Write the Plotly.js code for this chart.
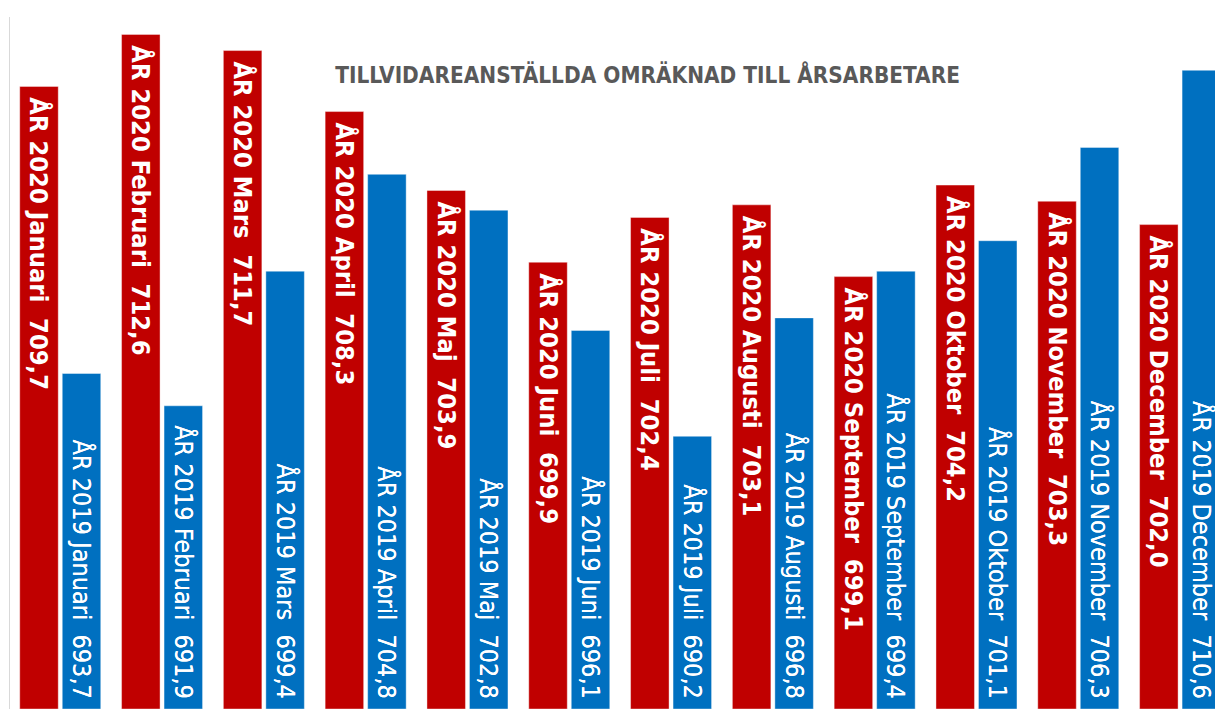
<!DOCTYPE html>
<html>
<head>
<meta charset="utf-8">
<script src="https://cdn.plot.ly/plotly-3.0.1.min.js"></script>
<style>
html,body{margin:0;padding:0;background:#fff;overflow:hidden;}
#chart{width:1215px;height:711px;}
</style>
</head>
<body>
<div id="chart"></div>
<script>
const months = ["Januari","Februari","Mars","April","Maj","Juni","Juli","Augusti","September","Oktober","November","December"];
const values2020 = [709.7, 712.6, 711.7, 708.3, 703.9, 699.9, 702.4, 703.1, 699.1, 704.2, 703.3, 702.0];
const values2019 = [693.7, 691.9, 699.4, 704.8, 702.8, 696.1, 690.2, 696.8, 699.4, 701.1, 706.3, 710.6];
const chartTitle = "TILLVIDAREANSTÄLLDA OMRÄKNAD TILL ÅRSARBETARE";

const BASE = 675;
const NB = "\u00A0";
const fmt = v => v.toFixed(1).replace(".", ",");

const text2020 = months.map((m, i) => NB + "ÅR 2020 " + m + NB + NB + fmt(values2020[i]));
const text2019 = months.map((m, i) => "ÅR 2019 " + m + NB + NB + fmt(values2019[i]) + NB);

const FONT = "'DejaVu Sans Condensed', 'Liberation Sans Narrow', sans-serif";

const traces = [
  {
    type: "bar",
    name: "2020",
    x: months,
    y: values2020.map(v => +(v - BASE).toFixed(2)),
    base: BASE,
    marker: {color: "#C00000", line: {color: "rgba(255,255,255,0.5)", width: 0.8}},
    text: text2020,
    textposition: "inside",
    insidetextanchor: "end",
    textangle: 90,
    constraintext: "none",
    textfont: {family: FONT, size: 25.3, color: "#ffffff", weight: "bold"},
    hoverinfo: "skip"
  },
  {
    type: "bar",
    name: "2019",
    x: months,
    y: values2019.map(v => +(v - BASE).toFixed(2)),
    base: BASE,
    marker: {color: "#0070C0", line: {color: "rgba(255,255,255,0.5)", width: 0.8}},
    text: text2019,
    textposition: "inside",
    insidetextanchor: "start",
    textangle: 90,
    constraintext: "none",
    textfont: {family: FONT, size: 25, color: "#ffffff", shadow: "0px 0px 0.4px #ffffff"},
    hoverinfo: "skip"
  }
];

const layout = {
  width: 1215,
  height: 711,
  margin: {l: 10, r: 0, t: 17, b: 2, pad: 0},
  paper_bgcolor: "#ffffff",
  plot_bgcolor: "#ffffff",
  showlegend: false,
  barmode: "group",
  bargap: 0.165,
  bargroupgap: 0.094,
  title: {
    text: "<b>" + chartTitle + "</b>",
    font: {family: FONT, size: 22.4, color: "#595959"},
    xref: "container", x: 0.533, xanchor: "center",
    yref: "container", y: 0.8945, yanchor: "middle"
  },
  xaxis: {
    type: "category",
    range: [-0.4936, 11.343],
    showticklabels: false, ticks: "", showgrid: false, zeroline: false, showline: false
  },
  yaxis: {
    range: [675, 713.57],
    showticklabels: false, ticks: "", showgrid: false, zeroline: false,
    showline: true, linecolor: "#d9d9d9", linewidth: 1.5
  }
};

Plotly.newPlot("chart", traces, layout, {displayModeBar: false, staticPlot: true});
</script>
</body>
</html>
